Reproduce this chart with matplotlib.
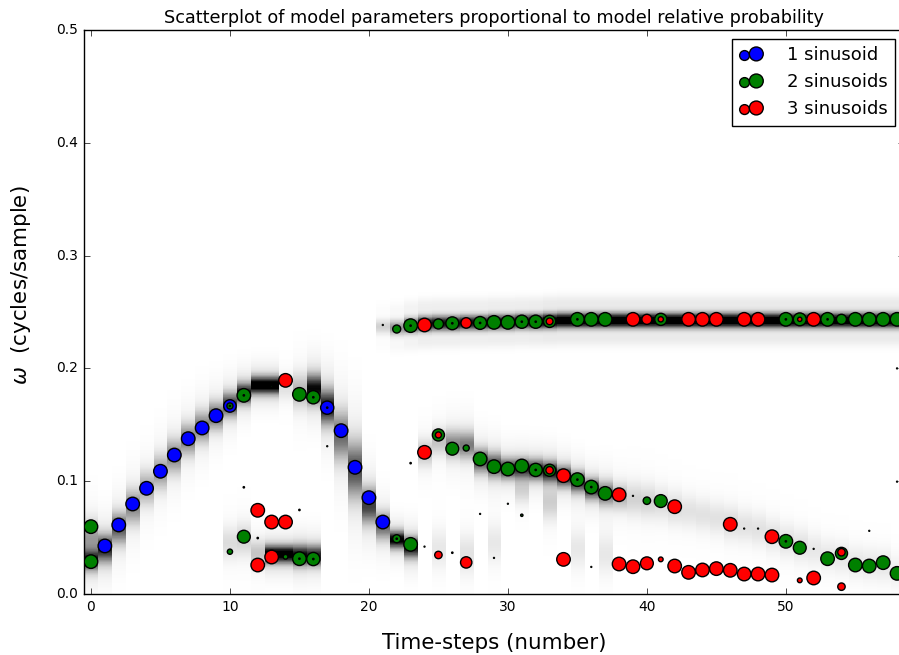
import numpy as np
import matplotlib.pyplot as plt
from matplotlib.collections import PathCollection
from matplotlib.legend_handler import HandlerPathCollection

plt.style.use('classic')
plt.rcParams['mathtext.fontset'] = 'dejavusans'

# 1 sinusoid model: time-step, frequency, relative probability
t1 = [1, 2, 3, 4, 5, 6, 7, 8, 9, 10, 17, 18, 19, 20, 21]
w1 = [0.0426, 0.0612, 0.0798, 0.0937, 0.1088, 0.1232, 0.1377, 0.1472, 0.1581, 0.1667,
      0.1652, 0.1448, 0.1123, 0.0854, 0.0638]
p1 = [1, 1, 1, 1, 1, 1, 1, 1, 1, 0.85, 0.95, 1, 1, 1, 1]

# 2 sinusoids model
t2 = [0, 0, 10, 10, 11, 11, 13, 14, 15, 15, 16, 16, 22, 22, 23, 23,
      25, 25, 26, 26, 27, 28, 28, 29, 29, 30, 30, 31, 31, 32, 32, 33, 33,
      35, 35, 36, 36, 37, 37, 40, 41, 41, 50, 50, 51, 51, 53, 53, 54, 54,
      55, 55, 56, 56, 57, 57, 58, 58]
w2 = [0.0597, 0.0287, 0.1667, 0.0375, 0.1761, 0.0508, 0.1838, 0.0330, 0.1770, 0.0313,
      0.1744, 0.0310, 0.2349, 0.0490, 0.2379, 0.0440,
      0.2394, 0.1410, 0.2400, 0.1288, 0.1294, 0.2403, 0.1197, 0.2408, 0.1129,
      0.2408, 0.1108, 0.2414, 0.1135, 0.2414, 0.1100, 0.2417, 0.1097,
      0.2435, 0.1014, 0.2435, 0.0948, 0.2435, 0.0892, 0.0827, 0.2435, 0.0824,
      0.2435, 0.0467, 0.2435, 0.0410, 0.2435, 0.0313, 0.2435, 0.0360,
      0.2435, 0.0257, 0.2435, 0.0248, 0.2435, 0.0278, 0.2435, 0.0183]
p2 = [1, 1, 0.2, 0.15, 1, 0.9, 0.02, 0.12, 1, 1, 0.95, 0.95, 0.35, 0.35, 1, 1,
      0.55, 0.8, 0.9, 0.9, 0.2, 0.9, 1, 1, 1, 1, 1, 0.95, 1, 0.95, 0.95, 0.8, 0.8,
      1, 1, 1, 1, 1, 1, 0.3, 0.8, 0.9, 1, 1, 0.9, 0.9, 1, 1, 0.55, 0.8,
      1, 1, 1, 1, 1, 1, 1, 1]

# 3 sinusoids model
t3 = [12, 12, 13, 13, 14, 14, 24, 24, 25, 25, 27, 27, 33, 33, 34, 34,
      38, 38, 39, 39, 40, 40, 41, 41, 42, 42, 43, 43, 44, 44, 45, 45,
      46, 46, 47, 47, 48, 48, 49, 49, 51, 51, 52, 52, 54, 54]
w3 = [0.0742, 0.0257, 0.0638, 0.0328, 0.1894, 0.0638, 0.2385, 0.1256, 0.1410, 0.0346,
      0.2403, 0.0280, 0.2417, 0.1097, 0.1049, 0.0307,
      0.0880, 0.0266, 0.2435, 0.0242, 0.2435, 0.0272, 0.2435, 0.0307, 0.0774, 0.0248,
      0.2435, 0.0192, 0.2435, 0.0213, 0.2435, 0.0225,
      0.0618, 0.0210, 0.2435, 0.0177, 0.2435, 0.0177, 0.0508, 0.0168,
      0.2435, 0.0121, 0.2435, 0.0142, 0.0370, 0.0065]
p3 = [1, 1, 1, 1, 1, 1, 1, 1, 0.2, 0.3, 0.6, 0.7, 0.25, 0.3, 1, 1,
      1, 1, 1, 1, 0.55, 0.9, 0.15, 0.12, 1, 1, 1, 1, 1, 1, 1, 1,
      1, 1, 1, 1, 1, 1, 1, 1, 0.1, 0.12, 1, 1, 0.3, 0.3]

# near-zero probability estimates (tiny dots)
t_tiny = [10, 11, 15, 16, 16, 17, 22, 23, 26, 28, 31, 32, 35, 50, 53, 32, 35, 36, 50,
          11, 12, 15, 17, 23, 24, 21, 26, 28, 29, 30, 31, 36, 39, 47, 48, 52, 56, 58, 58]
w_tiny = [0.1667, 0.1761, 0.0313, 0.1744, 0.0310, 0.1652, 0.0490, 0.2379, 0.2400, 0.2403,
          0.2414, 0.2414, 0.2435, 0.2435, 0.2435, 0.1100, 0.1014, 0.0948, 0.0467,
          0.0946, 0.0496, 0.0745, 0.1310, 0.1160, 0.0420, 0.2385, 0.0366, 0.0710, 0.0320,
          0.0800, 0.0698, 0.0240, 0.0870, 0.0580, 0.0580, 0.0400, 0.0560, 0.2000, 0.0996]
p_tiny = [0.01] * 19 + [0.01, 0.01, 0.01, 0.005, 0.01, 0.005, 0.005, 0.01, 0.005, 0.005,
                        0.005, 0.03, 0.005, 0.005, 0.005, 0.005, 0.005, 0.005, 0.005, 0.005]

# ridges of the background spectrogram: time-step, centre frequency, strength, width
ridge_t = [0, 0, 1, 2, 3, 4, 5, 6, 7, 8, 9, 10, 11, 12, 13, 14, 15, 16, 17, 18, 19, 20, 21, 22, 23,
           10, 11, 12, 13, 14, 15, 16,
           24, 25, 26, 27, 28, 29, 30, 31, 32, 33, 34, 35, 36, 37, 38, 39, 40, 41, 42,
           43, 44, 45, 46, 47, 48, 49, 50, 51, 52, 53, 54, 55, 56, 57, 58,
           25, 27, 29, 31, 33, 35, 37]
ridge_f = [0.030, 0.050, 0.040, 0.058, 0.077, 0.094, 0.108, 0.122, 0.137, 0.148, 0.158, 0.168,
           0.178, 0.185, 0.185, 0.183, 0.180, 0.182, 0.166, 0.140, 0.110, 0.078, 0.060, 0.048, 0.041,
           0.045, 0.048, 0.036, 0.035, 0.035, 0.034, 0.034,
           0.125, 0.135, 0.133, 0.132, 0.118, 0.114, 0.111, 0.111, 0.110, 0.108, 0.104, 0.099,
           0.093, 0.089, 0.086, 0.084, 0.082, 0.080, 0.076,
           0.073, 0.070, 0.067, 0.063, 0.060, 0.057, 0.052, 0.047, 0.043, 0.039, 0.034, 0.032,
           0.028, 0.026, 0.025, 0.020,
           0.040, 0.035, 0.045, 0.092, 0.080, 0.040, 0.035]
ridge_a = [0.75, 0.3, 0.75, 0.55, 0.4, 0.3, 0.35, 0.4, 0.45, 0.45, 0.5, 0.65,
           0.8, 1.0, 1.0, 0.1, 0.25, 0.85, 0.8, 0.5, 0.6, 0.65, 0.5, 0.9, 0.8,
           0.12, 0.15, 0.2, 1.0, 1.0, 0.85, 0.75,
           0.2, 0.2, 0.4, 0.45, 0.6, 0.65, 0.7, 0.7, 0.75, 0.8, 0.75, 0.7,
           0.7, 0.5, 0.25, 0.15, 0.15, 0.12, 0.12,
           0.1, 0.1, 0.1, 0.12, 0.1, 0.1, 0.1, 0.1, 0.1, 0.08, 0.08, 0.08,
           0.08, 0.08, 0.08, 0.06,
           0.08, 0.1, 0.08, 0.12, 0.15, 0.08, 0.08]
ridge_s = [0.006, 0.010, 0.008, 0.009, 0.010, 0.010, 0.010, 0.010, 0.009, 0.009, 0.008, 0.007,
           0.006, 0.005, 0.005, 0.008, 0.010, 0.008, 0.010, 0.014, 0.016, 0.010, 0.008, 0.005, 0.006,
           0.010, 0.010, 0.008, 0.005, 0.005, 0.006, 0.006,
           0.008, 0.008, 0.008, 0.008, 0.007, 0.007, 0.006, 0.006, 0.006, 0.006, 0.006, 0.006,
           0.006, 0.007, 0.008, 0.010, 0.010, 0.010, 0.010,
           0.010, 0.010, 0.010, 0.010, 0.010, 0.010, 0.010, 0.010, 0.010, 0.010, 0.010, 0.010,
           0.010, 0.010, 0.010, 0.010,
           0.012, 0.012, 0.012, 0.008, 0.010, 0.012, 0.012]

# the strong upper component, time-steps 21..58
top_t = list(range(21, 59))
top_f = [0.237, 0.236, 0.238, 0.2395, 0.240, 0.240, 0.2405, 0.2405, 0.241, 0.241, 0.2415, 0.2415,
         0.242] + [0.2425] * 25
top_a = [0.15, 0.35, 0.6, 0.8, 0.8, 0.8, 0.8, 0.8, 0.85, 0.85, 0.85, 0.9, 1.0] + [1.0] * 25

n_t = 59
freqs = np.linspace(0, 0.5, 1000)
spec = np.zeros((len(freqs), n_t))
for t, f, a, s in zip(ridge_t, ridge_f, ridge_a, ridge_s):
    d = freqs - f
    spec[:, t] += a * np.exp(-0.5 * (d / s) ** 2)
    spec[:, t] += 0.15 * a * np.exp(-0.5 * (d / (2.5 * s)) ** 2)
for t, f, a in zip(top_t, top_f, top_a):
    spec[:, t] += a * 1.2 * np.exp(-0.5 * ((freqs - f) / 0.0045) ** 2)
    # faint side lobes
    spec[:, t] += a * 0.08 * np.exp(-0.5 * ((freqs - f - 0.016) / 0.005) ** 2)
    spec[:, t] += a * 0.08 * np.exp(-0.5 * ((freqs - f + 0.016) / 0.005) ** 2)

fig = plt.figure(figsize=(8.99, 6.55), dpi=100, facecolor='white')
# the right edge of the axes runs just past the saved picture
ax = fig.add_axes([84 / 899, 61 / 655, 820 / 899, 564 / 655])
ax.imshow(spec, origin='lower', aspect='auto', cmap='gray_r', vmin=0, vmax=1,
          extent=(-0.5, n_t - 0.5, 0, 0.5), interpolation='nearest')

scale = 95
ax.scatter(t1, w1, s=np.array(p1) * scale, c='blue', edgecolors='black', linewidths=1,
           label='1 sinusoid', zorder=3)
ax.scatter(t2, w2, s=np.array(p2) * scale, c='green', edgecolors='black', linewidths=1,
           label='2 sinusoids', zorder=4)
ax.scatter(t3, w3, s=np.array(p3) * scale, c='red', edgecolors='black', linewidths=1,
           label='3 sinusoids', zorder=5)
ax.scatter(t_tiny, w_tiny, s=np.array(p_tiny) * scale, c='green', edgecolors='black',
           linewidths=1, zorder=6)

ax.set_xlim(-0.5, 58.5)
ax.set_ylim(0, 0.5)
ax.set_xticks([0, 10, 20, 30, 40, 50])
ax.set_yticks([0.0, 0.1, 0.2, 0.3, 0.4, 0.5])
ax.tick_params(labelsize=10)
ax.set_title('Scatterplot of model parameters proportional to model relative probability',
             fontsize=12.7)
ax.set_xlabel('Time-steps (number)', fontsize=15.4, labelpad=14)
ax.set_ylabel(r'$\omega$  (cycles/sample)', fontsize=15.4)
ax.yaxis.set_label_coords(-0.062, 0.548)
ax.legend(loc='upper right', scatterpoints=2, fontsize=13, fancybox=False,
          handlelength=1.25, handletextpad=1.4,
          handler_map={PathCollection: HandlerPathCollection(sizes=[50, 100])})

fig.savefig('out.png', dpi=100, facecolor='white')
